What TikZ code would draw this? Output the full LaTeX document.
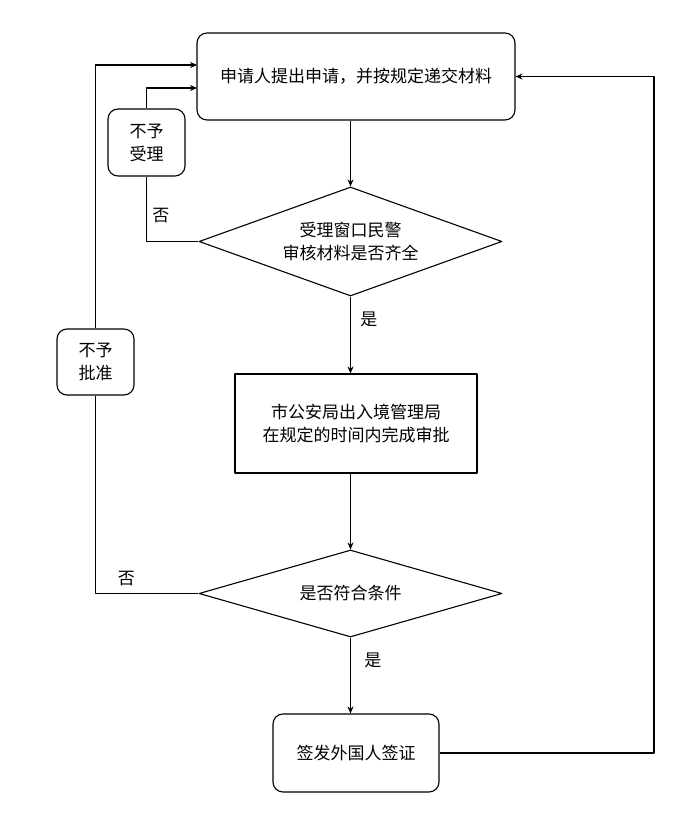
\documentclass[tikz,border=0pt]{standalone}
\usepackage{fontspec}
\setmainfont{Noto Sans CJK SC}
\usetikzlibrary{shapes.geometric,arrows.meta}
\tikzset{
	roundbox/.style={draw,rounded corners=10pt,align=center,inner sep=0pt},
	plainbox/.style={draw,align=center,inner sep=0pt},
	checkbox/.style={draw,diamond,align=center,inner sep=0pt,minimum width=303pt,minimum height=109pt,shape aspect=2.78}
}
\begin{document}
\begin{tikzpicture}[x=1pt,y=-1pt,line join=round,line width=1.1pt,font=\fontsize{17}{23}\selectfont,>={Stealth[length=7pt,width=6pt]}]
	\useasboundingbox[fill=white](0,0) rectangle (700,819);
	\node[roundbox,minimum width=318pt,minimum height=87pt](apply) at (356,76.5){申请人提出申请，并按规定递交材料};
	\node[checkbox](check) at (350.5,241.5){受理窗口民警\\审核材料是否齐全};
	\node[roundbox,minimum width=77pt,minimum height=67pt](reject) at (146.5,142.5){不予\\受理};
	\node[plainbox,minimum width=242pt,minimum height=99pt](approve) at (356,423.5){市公安局出入境管理局\\在规定的时间内完成审批};
	\node[checkbox,minimum height=87pt,shape aspect=3.48](cond) at (350.5,593.5){是否符合条件};
	\node[roundbox,minimum width=77pt,minimum height=66pt](deny) at (95.5,362){不予\\批准};
	\node[roundbox,minimum width=166pt,minimum height=78pt](issue) at (356,753){签发外国人签证};
	\coordinate (in1) at (197,88);
	\coordinate (in2) at (197,65);
	\coordinate (right) at (654,0);
	% main line
	\draw[->](check.north |- apply.south)--(check.north);
	\draw[->](check.south)--(check.south |- approve.north)node[pos=0.3,right=6pt]{是};
	\draw[->](cond.north |- approve.south)--(cond.north);
	\draw[->](cond.south)--(cond.south |- issue.north)node[pos=0.3,right=10pt]{是};
	% back loops
	\draw(check.west)-|(reject.south)node[pos=0.7,right=2pt]{否};
	\draw[->](reject.north)|-(in1);
	\draw(cond.west)-|(deny.south)node[pos=0.35,above=4pt]{否};
	\draw[->](deny.north)|-(in2);
	\draw[->](issue.east)--(issue.east -| right)|-(apply.east);
\end{tikzpicture}
\end{document}
